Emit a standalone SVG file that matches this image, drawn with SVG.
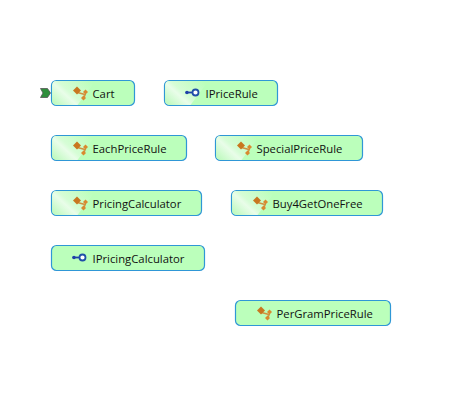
<svg xmlns="http://www.w3.org/2000/svg" width="457" height="411" viewBox="0 0 457 411">
<style>
.box{fill:#bbffbb;stroke:#2f97d6;stroke-width:1.2}
.hl{fill:url(#g)}
.edge{fill:none;stroke:#2f97d6;stroke-width:1.2}
text{font-family:"Open Sans","Noto Sans","Liberation Sans",sans-serif;font-size:11.3px;fill:#111}
</style>
<defs>
<linearGradient id="g" x1="0" y1="0.8" x2="1" y2="0.2">
<stop offset="0" stop-color="#c2fac2"/>
<stop offset="0.33" stop-color="#e9fde9"/>
<stop offset="0.45" stop-color="#d6fdd6"/>
<stop offset="1" stop-color="#bbffbb"/>
</linearGradient>
<path id="band" d="M5 0.600H44L26 24.400H5Q0.600 24.400 0.600 20V5Q0.600 0.600 5 0.600Z"/>
<g id="cls">
<path d="M5 6.500 12.500 8.500 11 12.500" fill="none" stroke="#d0913f" stroke-width="1.800"/>
<path d="M0.500 4.500 4.500 0.500 8.500 4.500 4.500 8.500Z" fill="#c9771f"/>
<path d="M10.500 6 13 3.500 15.500 6 13 8.500Z" fill="#d98a2f"/>
<path d="M8.500 12 11 9.500 13.500 12 11 14.500Z" fill="#d98a2f"/>
</g>
<g id="ifc">
<path d="M0 3.500H8" stroke="#1f3fa8" stroke-width="1.800"/>
<circle cx="1.500" cy="3.500" r="1.700" fill="#1f3fa8"/>
<circle cx="10" cy="3.500" r="3" fill="#fff" stroke="#1f4fa8" stroke-width="1.800"/>
</g>
</defs>
<rect width="457" height="411" fill="#fff"/>
<g id="entry"><path d="M40.500 88.500H47.500L50.500 93 47.500 97.500H40.500L43 93Z" fill="#2f8f3c" stroke="#555" stroke-width="0.800"/></g>
<g id="connectors"/>
<g id="Cart"><rect class="box" x="51.500" y="80.500" width="83" height="25" rx="5"/><use class="hl" href="#band" x="51.500" y="80.500"/><use href="#cls" x="72.500" y="86"/><text x="92.500" y="97.500">Cart</text></g>
<g id="IPriceRule"><rect class="box" x="164.500" y="80.500" width="113" height="25" rx="5"/><use class="hl" href="#band" x="164.500" y="80.500"/><use href="#ifc" x="185.500" y="89"/><text x="205.500" y="97.500">IPriceRule</text></g>
<g id="EachPriceRule"><rect class="box" x="51.500" y="135.500" width="135" height="25" rx="5"/><use class="hl" href="#band" x="51.500" y="135.500"/><use href="#cls" x="72.500" y="141"/><text x="92.500" y="152.500">EachPriceRule</text></g>
<g id="SpecialPriceRule"><rect class="box" x="215.500" y="135.500" width="147" height="25" rx="5"/><use class="hl" href="#band" x="215.500" y="135.500"/><use href="#cls" x="236.500" y="141"/><text x="256.500" y="152.500">SpecialPriceRule</text></g>
<g id="PricingCalculator"><rect class="box" x="51.500" y="190.500" width="150" height="25" rx="5"/><use class="hl" href="#band" x="51.500" y="190.500"/><use href="#cls" x="72.500" y="196"/><text x="92.500" y="207.500">PricingCalculator</text></g>
<g id="Buy4GetOneFree"><rect class="box" x="231.500" y="190.500" width="151" height="25" rx="5"/><use class="hl" href="#band" x="231.500" y="190.500"/><use href="#cls" x="252.500" y="196"/><text x="272.500" y="207.500">Buy4GetOneFree</text></g>
<g id="IPricingCalculator"><rect class="box" x="51.500" y="245.500" width="153" height="25" rx="5"/><use href="#ifc" x="72.500" y="254"/><text x="92.500" y="262.500">IPricingCalculator</text></g>
<g id="PerGramPriceRule"><rect class="box" x="235.500" y="300.500" width="155" height="25" rx="5"/><use href="#cls" x="256.500" y="306"/><text x="276.500" y="317.500">PerGramPriceRule</text></g>
</svg>
